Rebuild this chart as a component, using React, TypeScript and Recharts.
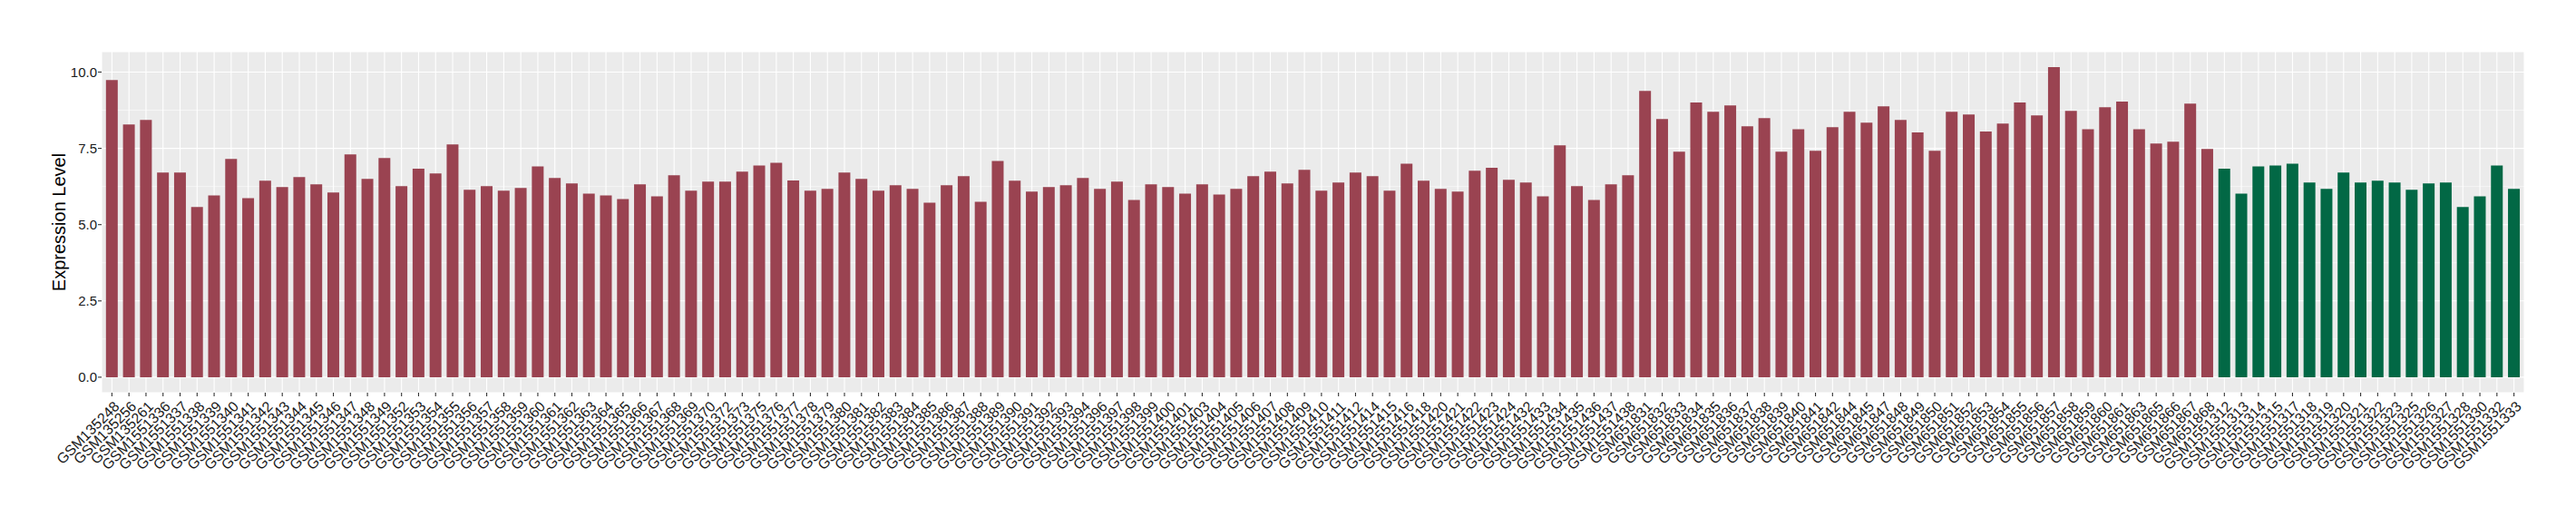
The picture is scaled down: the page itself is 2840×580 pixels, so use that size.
import React from "react";
import { Bar, BarChart, CartesianGrid, Cell, XAxis, YAxis } from "recharts";

// tumour samples (red) then normal samples (green), in plot order
const caseSamples = [
  "GSM135248", "GSM135256", "GSM135261",
  "GSM1551336", "GSM1551337", "GSM1551338", "GSM1551339", "GSM1551340", "GSM1551341", "GSM1551342",
  "GSM1551343", "GSM1551344", "GSM1551345", "GSM1551346", "GSM1551347", "GSM1551348", "GSM1551349",
  "GSM1551352", "GSM1551353", "GSM1551354", "GSM1551355", "GSM1551356", "GSM1551357", "GSM1551358",
  "GSM1551359", "GSM1551360", "GSM1551361", "GSM1551362", "GSM1551363", "GSM1551364", "GSM1551365",
  "GSM1551366", "GSM1551367", "GSM1551368", "GSM1551369", "GSM1551370",
  "GSM1551372", "GSM1551373",
  "GSM1551375", "GSM1551376", "GSM1551377", "GSM1551378", "GSM1551379", "GSM1551380", "GSM1551381",
  "GSM1551382", "GSM1551383", "GSM1551384", "GSM1551385", "GSM1551386", "GSM1551387", "GSM1551388",
  "GSM1551389", "GSM1551390", "GSM1551391", "GSM1551392", "GSM1551393", "GSM1551394",
  "GSM1551396", "GSM1551397", "GSM1551398", "GSM1551399", "GSM1551400", "GSM1551401",
  "GSM1551403", "GSM1551404", "GSM1551405", "GSM1551406", "GSM1551407", "GSM1551408", "GSM1551409",
  "GSM1551410", "GSM1551411", "GSM1551412",
  "GSM1551414", "GSM1551415", "GSM1551416", "GSM1551418",
  "GSM1551420", "GSM1551421", "GSM1551422", "GSM1551423", "GSM1551424",
  "GSM1551432", "GSM1551433", "GSM1551434", "GSM1551435", "GSM1551436", "GSM1551437", "GSM1551438",
  "GSM651831", "GSM651832", "GSM651833", "GSM651834", "GSM651835", "GSM651836", "GSM651837",
  "GSM651838", "GSM651839", "GSM651840", "GSM651841", "GSM651842", "GSM651844", "GSM651845",
  "GSM651847", "GSM651848", "GSM651849", "GSM651850", "GSM651851", "GSM651852", "GSM651853",
  "GSM651854", "GSM651855", "GSM651856", "GSM651857", "GSM651858", "GSM651859", "GSM651860",
  "GSM651861", "GSM651863", "GSM651865", "GSM651866", "GSM651867", "GSM651868",
];

const caseValues = [
  9.74, 8.28, 8.43, 6.71, 6.71, 5.58, 5.96, 7.15, 5.87, 6.44, 6.23, 6.56, 6.32, 6.05, 7.3, 6.5, 7.18, 6.26,
  6.83, 6.68, 7.63, 6.14, 6.26, 6.11, 6.2, 6.91, 6.53, 6.35, 6.02, 5.96, 5.84, 6.32, 5.93, 6.62, 6.11, 6.41,
  6.41, 6.74, 6.94, 7.03, 6.45, 6.11, 6.17, 6.71, 6.5, 6.11, 6.29, 6.17, 5.72, 6.29, 6.59, 5.75, 7.09, 6.44,
  6.08, 6.23, 6.29, 6.53, 6.17, 6.41, 5.81, 6.32, 6.23, 6.02, 6.32, 5.99, 6.17, 6.59, 6.74, 6.35, 6.8, 6.11,
  6.38, 6.71, 6.59, 6.11, 7.0, 6.44, 6.17, 6.08, 6.77, 6.86, 6.47, 6.38, 5.93, 7.6, 6.26, 5.81, 6.32, 6.62,
  9.38, 8.46, 7.39, 9.0, 8.7, 8.91, 8.22, 8.49, 7.39, 8.13, 7.42, 8.19, 8.7, 8.34, 8.88, 8.43, 8.02, 7.42,
  8.7, 8.61, 8.05, 8.31, 9.0, 8.58, 10.16, 8.73, 8.13, 8.85, 9.03, 8.13, 7.66, 7.72, 8.97, 7.48,
];

const controlSamples = [
  "GSM1551312", "GSM1551313", "GSM1551314", "GSM1551315", "GSM1551317", "GSM1551318",
  "GSM1551319", "GSM1551320", "GSM1551321", "GSM1551322", "GSM1551323", "GSM1551325",
  "GSM1551326", "GSM1551327", "GSM1551328", "GSM1551330", "GSM1551332", "GSM1551333",
];

const controlValues = [
  6.83, 6.02, 6.91, 6.94, 7.0, 6.38, 6.17, 6.71, 6.38, 6.44, 6.38, 6.14, 6.35, 6.38, 5.58, 5.93, 6.94, 6.17,
];

const yTicks = [0, 2.5, 5, 7.5, 10];
const yMinorTicks = [1.25, 3.75, 6.25, 8.75];

const CASE_COLOR = "#9a4351";
const CONTROL_COLOR = "#026845";
const FONT = "'Liberation Sans', Arial, Helvetica, sans-serif";

const data = [
  ...caseSamples.map((id, i) => ({ id, value: caseValues[i], fill: CASE_COLOR })),
  ...controlSamples.map((id, i) => ({ id, value: controlValues[i], fill: CONTROL_COLOR })),
];

function SampleTick({ x, y, payload }: any) {
  return (
    <text
      transform={`translate(${x + 1},${y + 2}) rotate(-45)`}
      textAnchor="end"
      dy="0.72em"
      fontSize={16}
      fontFamily={FONT}
      fill="#1a1a1a"
    >
      {payload.value}
    </text>
  );
}

export default function App() {
  return (
    <div style={{ position: "absolute", left: 0, top: 0, width: 2840, height: 580, background: "#fff" }}>
      <BarChart
        width={2840}
        height={580}
        data={data}
        margin={{ top: 57, right: 57, bottom: 0, left: 0 }}
        barCategoryGap="15%"
      >
        <CartesianGrid fill="#ebebeb" stroke="#ffffff" strokeWidth={1.1} />
        <CartesianGrid vertical={false} horizontalValues={yMinorTicks} stroke="#ffffff" strokeWidth={0.55} />
        <XAxis
          dataKey="id"
          interval={0}
          height={147}
          padding={{ left: 2, right: 2 }}
          axisLine={false}
          tickSize={4}
          tickLine={{ stroke: "#333333", strokeWidth: 1.1 }}
          tick={<SampleTick />}
        />
        <YAxis
          type="number"
          width={112}
          domain={[-0.508, 10.668]}
          ticks={yTicks}
          allowDataOverflow
          axisLine={false}
          tickSize={4}
          tickMargin={1}
          tickLine={{ stroke: "#333333", strokeWidth: 1.1 }}
          tickFormatter={(v: number) => v.toFixed(1)}
          tick={{ fontSize: 15, fill: "#1a1a1a", fontFamily: FONT }}
          label={{
            value: "Expression Level",
            angle: -90,
            position: "insideLeft",
            offset: 65,
            style: { textAnchor: "middle", fontSize: 20, fill: "#000", fontFamily: FONT },
          }}
        />
        <Bar dataKey="value" isAnimationActive={false}>
          {data.map((d) => (
            <Cell key={d.id} fill={d.fill} />
          ))}
        </Bar>
      </BarChart>
    </div>
  );
}
